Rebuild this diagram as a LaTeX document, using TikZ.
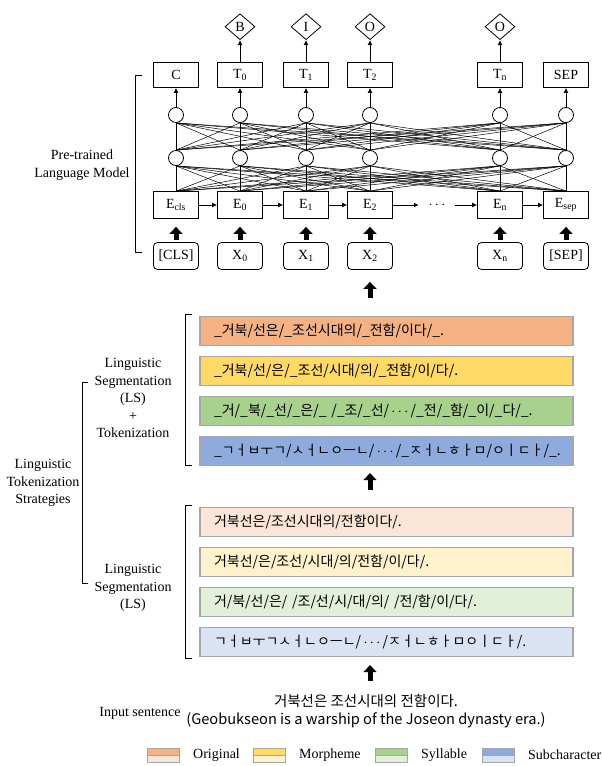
\documentclass[tikz,border=0pt]{standalone}
\usepackage{fontspec}
\setmainfont{Liberation Serif}
\newfontfamily\korfont{Noto Sans CJK KR}
\usetikzlibrary{shapes,arrows.meta,positioning}

\definecolor{origdark}{HTML}{F4B183}
\definecolor{origlight}{HTML}{FBE5D6}
\definecolor{morphdark}{HTML}{FFD966}
\definecolor{morphlight}{HTML}{FFF2CC}
\definecolor{sylldark}{HTML}{A9D18E}
\definecolor{syllight}{HTML}{E2F0D9}
\definecolor{subdark}{HTML}{8FAADC}
\definecolor{sublight}{HTML}{DAE3F3}
\definecolor{barline}{HTML}{A6A6A6}

\newcommand{\lsub}[1]{\textsubscript{#1}}
\newcommand{\cdts}{\,$\cdots$\,}

\tikzset{
  tokbox/.style={draw, line width=0.8pt, minimum width=45pt, minimum height=27pt, inner sep=0pt},
  inbox/.style={tokbox, rounded corners=4pt},
  unit/.style={draw, circle, line width=0.8pt, minimum size=15pt, inner sep=0pt},
  tag/.style={draw, diamond, line width=0.8pt, minimum width=30pt, minimum height=26pt, inner sep=0pt},
  link/.style={line width=0.5pt},
  flow/.style={line width=0.9pt, -{Latex[length=5pt,width=5pt]}},
  bigarrow/.style={line width=5pt, -{Triangle[length=7pt,width=13pt]}},
  seg/.style={draw=barline, line width=1.2pt, minimum height=29pt, text width=345pt,
    inner xsep=14pt, align=left, font=\korfont\fontsize{14}{17}\selectfont},
  brace/.style={line width=0.6pt},
  sidetext/.style={align=center}
}

\begin{document}
\begin{tikzpicture}[x=1pt, y=-1pt, font=\fontsize{14}{17.5}\selectfont]
  \useasboundingbox (0,0) rectangle (602,766);

  % language model columns
  \foreach \id/\x/\inp/\emb/\out in {c/176/{[CLS]}/{E\lsub{cls}}/C,
      0/240/{X\lsub{0}}/{E\lsub{0}}/{T\lsub{0}},
      1/306/{X\lsub{1}}/{E\lsub{1}}/{T\lsub{1}},
      2/370/{X\lsub{2}}/{E\lsub{2}}/{T\lsub{2}},
      n/500/{X\lsub{n}}/{E\lsub{n}}/{T\lsub{n}},
      s/566/{[SEP]}/{E\lsub{sep}}/SEP} {
    \node[inbox] (in\id) at (\x,256) {\inp};
    \node[tokbox] (emb\id) at (\x,205) {\emb};
    \node[unit] (hA\id) at (\x,158) {};
    \node[unit] (hB\id) at (\x,115) {};
    \node[tokbox, minimum height=25pt] (out\id) at (\x,75) {\out};
    \draw[bigarrow, shorten <=2pt, shorten >=8pt] (in\id) -- (emb\id);
    \draw[flow] (hB\id) -- (out\id);
  }
  \foreach \id/\lab in {0/B, 1/I, 2/O, n/O} {
    \node[tag, above=22pt of out\id] (tag\id) {\lab};
    \draw[flow] (out\id) -- (tag\id);
  }

  % fully connected layers
  \foreach \a in {c,0,1,2,n,s}
    \foreach \b in {c,0,1,2,n,s} {
      \draw[link] (emb\a.north) -- (hA\b.south);
      \draw[link] (hA\a.north) -- (hB\b.south);
    }

  \node[minimum width=36pt] (dots) at (437,205) {$\cdots$};
  \draw[flow] (embc) -- (emb0);
  \draw[flow] (emb0) -- (emb1);
  \draw[flow] (emb1) -- (emb2);
  \draw[flow] (emb2) -- (dots);
  \draw[flow] (dots) -- (embn);
  \draw[flow] (embn) -- (embs);

  \draw[brace] (142,75) -- (135,75) -- (135,252) -- (142,252);
  \node[sidetext] (plm) at (82,165) {Pre-trained\\Language Model};

  % LS + tokenization
  \node[seg, fill=origdark] (tok1) at (386.5,331) {\_거북/선은/\_조선시대의/\_전함/이다/\_.};
  \node[seg, fill=morphdark] (tok2) at (386.5,371) {\_거북/선/은/\_조선/시대/의/\_전함/이/다/.};
  \node[seg, fill=sylldark] (tok3) at (386.5,411) {\_거/\_북/\_선/\_은/\_ /\_조/\_선/\cdts/\_전/\_함/\_이/\_다/\_.};
  \node[seg, fill=subdark] (tok4) at (386.5,451) {\_ㄱㅓㅂㅜㄱ/ㅅㅓㄴㅇㅡㄴ/\cdts/\_ㅈㅓㄴㅎㅏㅁ/ㅇㅣㄷㅏ/\_.};
  \draw[brace] (192,314) -- (185,314) -- (185,465) -- (192,465);
  \node[sidetext] (lstok) at (133,398) {Linguistic\\Segmentation\\(LS)\\+\\Tokenization};

  % LS only
  \node[seg, fill=origlight] (ls1) at (386.5,522) {거북선은/조선시대의/전함이다/.};
  \node[seg, fill=morphlight] (ls2) at (386.5,562) {거북선/은/조선/시대/의/전함/이/다/.};
  \node[seg, fill=syllight] (ls3) at (386.5,602) {거/북/선/은/ /조/선/시/대/의/ /전/함/이/다/.};
  \node[seg, fill=sublight] (ls4) at (386.5,642) {ㄱㅓㅂㅜㄱㅅㅓㄴㅇㅡㄴ/\cdts/ㅈㅓㄴㅎㅏㅁㅇㅣㄷㅏ/.};
  \draw[brace] (192,505) -- (185,505) -- (185,658) -- (192,658);
  \node[sidetext] (lsonly) at (133,588) {Linguistic\\Segmentation\\(LS)};

  \draw[brace] (88,382) -- (82,382) -- (82,583) -- (88,583);
  \node[sidetext] (lts) at (43,483) {Linguistic\\Tokenization\\Strategies};

  % arrows between stages
  \draw[bigarrow, shorten <=18pt, shorten >=12pt] (tok1.north -| in2) -- (in2.south);
  \draw[bigarrow, shorten <=17pt, shorten >=7pt] (ls1.north -| in2) -- (tok4.south -| in2);
  \coordinate (senttop) at (370,681);
  \draw[bigarrow, shorten >=8pt] (senttop) -- (ls4.south -| senttop);

  \node[font=\korfont\fontsize{14.5}{17.5}\selectfont, align=center] (sent) at (366,711)
    {거북선은 조선시대의 전함이다.\\{\fontsize{14.6}{17}\selectfont (Geobukseon is a warship of the Joseon dynasty era.)}};
  \node (inlab) at (140,713) {Input sentence};

  % legend
  \foreach \x/\dark/\light/\lab in {147/origdark/origlight/Original,
      253/morphdark/morphlight/Morpheme, 375/sylldark/syllight/Syllable,
      482/subdark/sublight/Subcharacter} {
    \filldraw[fill=\dark, draw=barline, line width=0.4pt] (\x,748) rectangle ++(32,7);
    \filldraw[fill=\light, draw=barline, line width=0.4pt] (\x,755) rectangle ++(32,7);
    \node[anchor=west, inner sep=0pt] (leg\x) at (\x+46,755) {\lab};
  }
\end{tikzpicture}
\end{document}
